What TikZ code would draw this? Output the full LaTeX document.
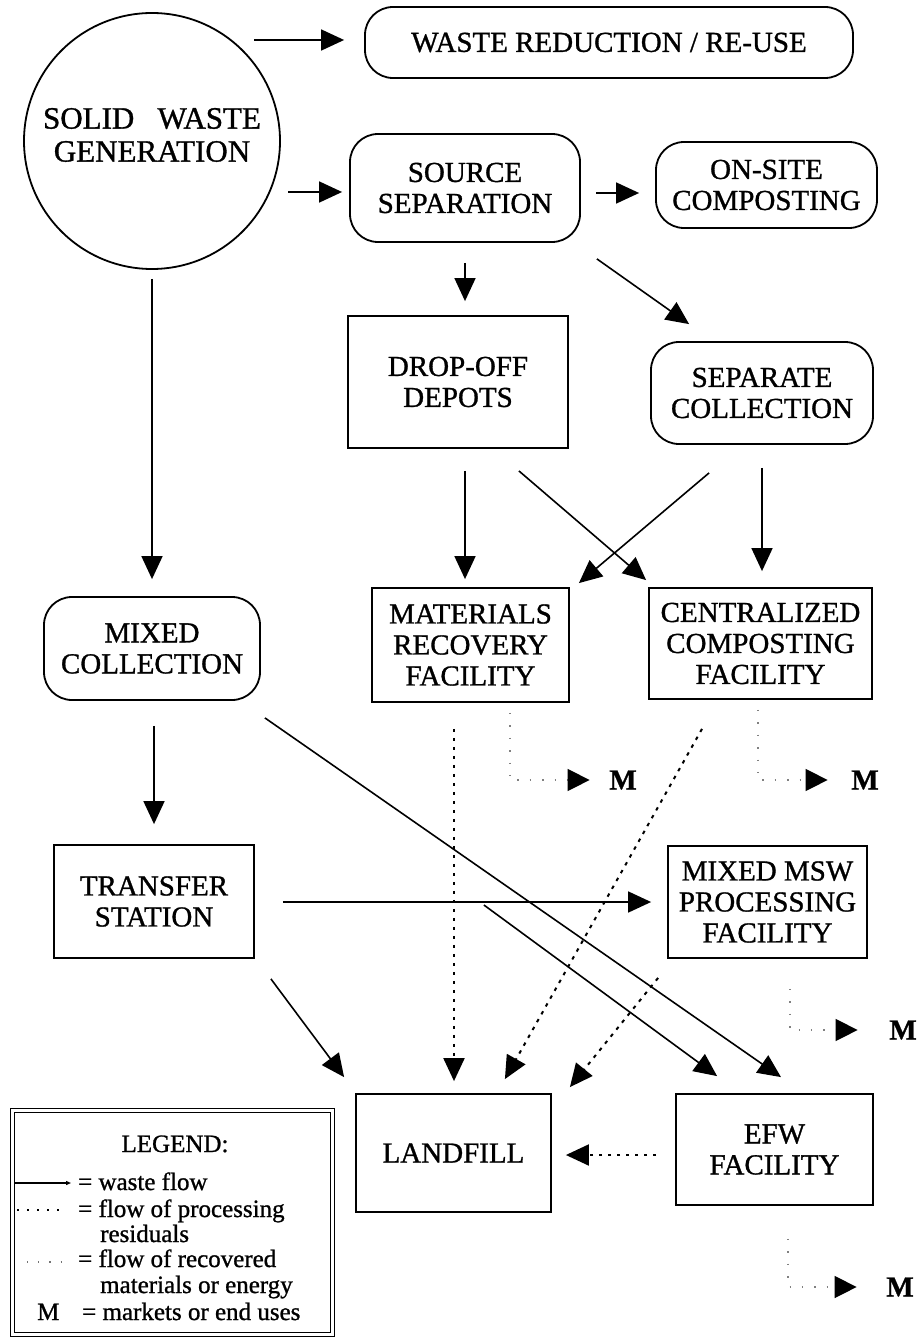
\documentclass[tikz,border=0pt]{standalone}
\usepackage{fontspec}
\setmainfont{Liberation Serif}[RawFeature={embolden=1}]
\usetikzlibrary{arrows.meta}
\newcommand\labfont{\fontsize{29}{31}\selectfont}
\newcommand\genfont{\fontsize{31}{33}\selectfont}
\newcommand\legfont{\fontsize{25}{26}\selectfont}
\newcommand\mfont{\fontsize{29}{31}\selectfont\bfseries}
\begin{document}
\begin{tikzpicture}[x=1pt,y=-1pt,
  box/.style={draw,line width=1.8pt,inner sep=0pt,align=center,font=\labfont},
  rbox/.style={box,rounded corners=28pt},
  flow/.style={line width=1.6pt,-{Triangle[length=23pt,width=21pt]}},
  resid/.style={line width=2pt,dash pattern=on 3.5pt off 5.5pt,-{Triangle[length=23pt,width=21pt]}},
  recov/.style={line width=1.4pt,black!50,dash pattern=on 1.4pt off 11pt,
                -{Triangle[length=22pt,width=22pt,color=black]}},
  mlabel/.style={inner sep=0pt,font=\mfont},
  legtext/.style={inner sep=0pt,font=\legfont}]
\useasboundingbox (0,0) rectangle (920,1340);

% ---- nodes
\node[draw,circle,line width=1.8pt,minimum size=256pt,inner sep=0pt] (gen) at (152,141) {};
\node[inner sep=0pt,align=center,font=\genfont] (gentext) at ([yshift=6pt]gen.center)
  {SOLID\hspace{0.75em}WASTE\\GENERATION};
\node[rbox,minimum width=488pt,minimum height=71pt] (wr) at (609,42.5) {WASTE REDUCTION / RE-USE};
\node[rbox,minimum width=230pt,minimum height=108pt] (ss) at (465,188) {SOURCE\\SEPARATION};
\node[rbox,minimum width=221pt,minimum height=86pt] (onsite) at (766.5,185) {ON-SITE\\COMPOSTING};
\node[box,minimum width=220pt,minimum height=132pt] (dod) at (458,382) {DROP-OFF\\DEPOTS};
\node[rbox,minimum width=222pt,minimum height=102pt] (sc) at (762,393) {SEPARATE\\COLLECTION};
\node[box,minimum width=197pt,minimum height=114pt] (mrf) at (470.5,645) {MATERIALS\\RECOVERY\\FACILITY};
\node[box,minimum width=223pt,minimum height=111pt] (ccf) at (760.5,643.5) {CENTRALIZED\\COMPOSTING\\FACILITY};
\node[rbox,minimum width=216pt,minimum height=103pt] (mc) at (152,648.5) {MIXED\\COLLECTION};
\node[box,minimum width=200pt,minimum height=113pt] (ts) at (154,901.5) {TRANSFER\\STATION};
\node[box,minimum width=199pt,minimum height=112pt] (msw) at (767.5,902) {MIXED MSW\\PROCESSING\\FACILITY};
\node[box,minimum width=195pt,minimum height=118pt] (lf) at (453.5,1153) {LANDFILL};
\node[box,minimum width=197pt,minimum height=111pt] (efw) at (774.5,1149.5) {EFW\\FACILITY};

% markets or end uses
\node[mlabel] (m1) at (623,780) {M};
\node[mlabel] (m2) at (865,780) {M};
\node[mlabel] (m3) at (903,1030) {M};
\node[mlabel] (m4) at (900,1287) {M};

% ---- waste flow
\draw[flow] ([shift={(-110,-2.5)}]wr.west) -- ([shift={(-20,-2.5)}]wr.west);
\draw[flow] ([shift={(-61,4)}]ss.west) -- ([shift={(-7,4)}]ss.west);
\draw[flow] ([shift={(-59,8)}]onsite.west) -- ([shift={(-16,8)}]onsite.west);
\draw[flow] ([shift={(0,20)}]ss.south) -- ([shift={(7,-14)}]dod.north);
\draw[flow] ([shift={(16,16)}]ss.south east) -- ([shift={(39,-17)}]sc.north west);
\draw[flow] ([shift={(7,22)}]dod.south) -- ([shift={(-5.5,-8)}]mrf.north);
\draw[flow] ([shift={(-50,22)}]dod.south east) -- ([shift={(-2,-7)}]ccf.north west);
\draw[flow] ([shift={(59,28)}]sc.south west) -- ([shift={(9,-4)}]mrf.north east);
\draw[flow] ([shift={(0,23)}]sc.south) -- ([shift={(1.5,-16)}]ccf.north);
\draw[flow] ([shift={(0,9)}]gen.south) -- ([shift={(0,-17)}]mc.north);
\draw[flow] ([shift={(2,25)}]mc.south) -- ([shift={(0,-20)}]ts.north);
\draw[flow] ([shift={(28,0.5)}]ts.east) -- ([shift={(-16,0)}]msw.west);
\coordinate (branch) at ([shift={(229,3.5)}]ts.east);
\draw[flow] (branch) -- ([shift={(42,-17)}]efw.north west);
\draw[flow] ([shift={(4,17)}]mc.south east) -- ([shift={(6.5,-16)}]efw.north);
\draw[flow] ([shift={(16,20)}]ts.south east) -- ([shift={(-11,-16)}]lf.north west);

% ---- processing residuals
\draw[resid] ([shift={(-16.5,26)}]mrf.south) -- ([shift={(0.5,-12)}]lf.north);
\draw[resid] ([shift={(-58.5,29)}]ccf.south) -- ([shift={(-47,-14)}]lf.north east);
\draw[resid] ([shift={(-9,19)}]msw.south west) -- ([shift={(18,-6)}]lf.north east);
\draw[resid] ([shift={(-19,5.5)}]efw.west) -- ([shift={(14,2)}]lf.east);

% ---- recovered materials or energy
\draw[recov] ([shift={(39.5,10)}]mrf.south) |- ([xshift=-19.5pt]m1.west);
\draw[recov] ([shift={(-2.5,10)}]ccf.south) |- ([xshift=-23.5pt]m2.west);
\draw[recov] ([shift={(22.5,30)}]msw.south) |- ([xshift=-31.5pt]m3.west);
\draw[recov] ([shift={(13.5,33)}]efw.south) |- ([xshift=-29.5pt]m4.west);

% ---- legend
\node[draw,double,double distance=3pt,line width=1.2pt,minimum width=319.6pt,
      minimum height=223.6pt,inner sep=0pt] (legend) at (172.5,1222.5) {};
\node[legtext,anchor=base] (legtitle) at (175,1152) {LEGEND:};
\coordinate (la1) at (15,1183); \coordinate (lb1) at (71,1183);
\coordinate (la2) at (17,1210); \coordinate (lb2) at (66,1210);
\coordinate (la3) at (27,1262); \coordinate (lb3) at (70,1262);
\draw[line width=1.2pt,-{Triangle[length=5pt,width=4pt]}] (la1) -- (lb1);
\draw[line width=1.6pt,dash pattern=on 2pt off 8pt] (la2) -- (lb2);
\draw[line width=1.2pt,black!55,dash pattern=on 1.2pt off 10pt] (la3) -- (lb3);
\node[legtext,anchor=base west] (l1) at (78,1190) {= waste flow};
\node[legtext,anchor=base west] (l2) at (78,1217) {= flow of processing};
\node[legtext,anchor=base west] (l2b) at (100,1242) {residuals};
\node[legtext,anchor=base west] (l3) at (78,1267) {= flow of recovered};
\node[legtext,anchor=base west] (l3b) at (100,1293) {materials or energy};
\node[legtext,anchor=base west] (l4m) at (37,1320) {M};
\node[legtext,anchor=base west] (l4) at (82,1320) {= markets or end uses};
\end{tikzpicture}
\end{document}
